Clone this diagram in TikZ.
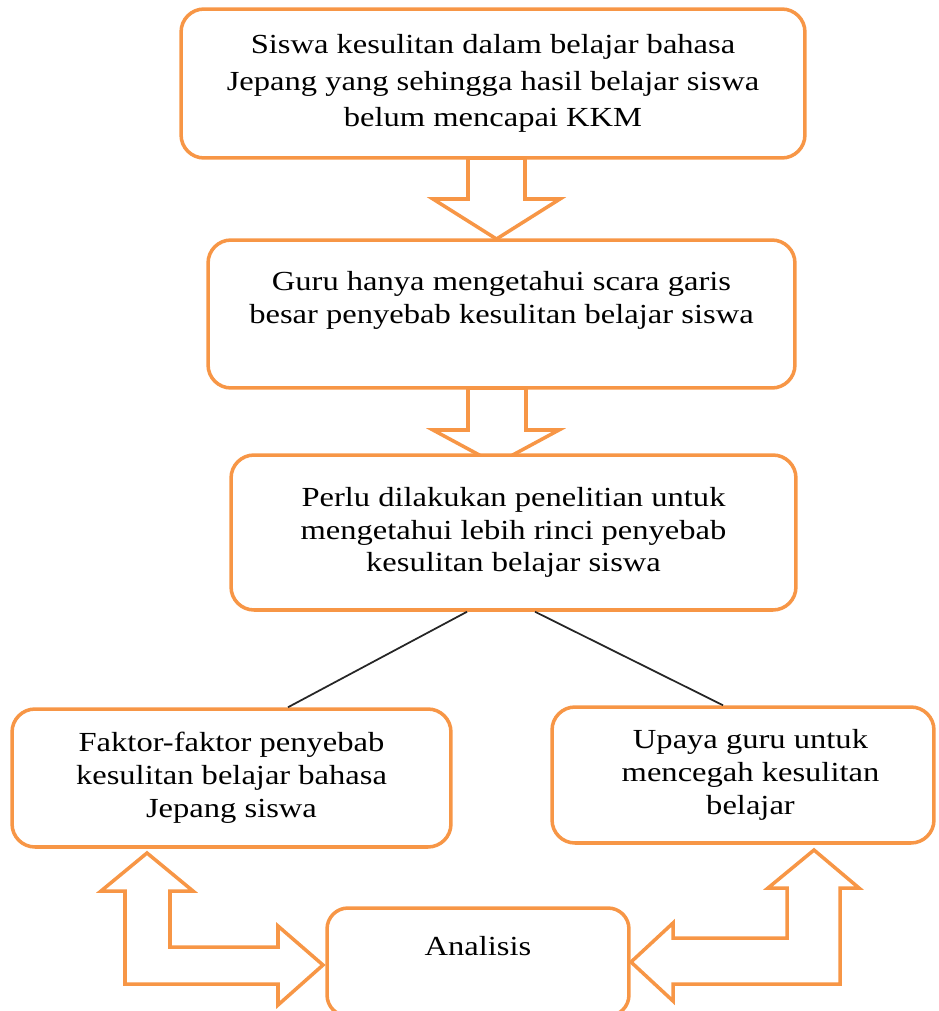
\documentclass[tikz,border=0pt]{standalone}
\usepackage{fontspec}
\setmainfont[FakeStretch=1.18]{Liberation Serif}
\definecolor{boxorange}{HTML}{F79646}

\begin{document}
\begin{tikzpicture}[x=0.02cm,y=-0.02cm,
  kotak/.style={draw=boxorange, line width=2pt, rounded corners=0.46cm, fill=white,
    align=center, inner sep=0pt, font=\fontsize{15.7}{18.7}\selectfont},
  panah/.style={draw=boxorange, line width=2pt, fill=white, line join=miter},
  garis/.style={draw=black!85, line width=1pt}]
\useasboundingbox (0,0) rectangle (938,1011);
\draw[panah] (468,158) -- (525,158) -- (525,199) -- (560,199) -- (496.5,239) -- (433,199) -- (468,199) -- cycle;
\draw[panah] (468,388) -- (526,388) -- (526,430) -- (559,430) -- (496,464) -- (433,430) -- (468,430) -- cycle;
\draw[panah] (147,853) -- (193,891) -- (170,891) -- (170,947) -- (278,947) -- (278,926) -- (323,965)
  -- (278,1005) -- (278,984) -- (125,984) -- (125,891) -- (101,891) -- cycle;
\draw[panah] (814,850) -- (859,888) -- (840,888) -- (840,984) -- (673,984) -- (673,1001) -- (631,962)
  -- (673,923) -- (673,938) -- (787,938) -- (787,888) -- (768,888) -- cycle;
\node[kotak, minimum width=12.48cm, minimum height=2.98cm, font=\fontsize{15.7}{20.7}\selectfont]
  (masalah) at (493,83.5) {Siswa kesulitan dalam belajar bahasa\\ Jepang yang sehingga hasil belajar siswa\\ belum mencapai KKM};
\node[kotak, minimum width=11.74cm, minimum height=2.96cm]
  (guru) at (501.5,314) {Guru hanya mengetahui scara garis\\ besar penyebab kesulitan belajar siswa\\ \mbox{}};
\node[kotak, minimum width=11.3cm, minimum height=3.1cm]
  (penelitian) at (513.5,532.5) {Perlu dilakukan penelitian untuk\\ mengetahui lebih rinci penyebab\\ kesulitan belajar siswa};
\node[kotak, minimum width=8.78cm, minimum height=2.76cm]
  (faktor) at (231.5,778) {Faktor-faktor penyebab\\ kesulitan belajar bahasa\\ Jepang siswa};
\node[kotak, minimum width=7.64cm, minimum height=2.72cm]
  (upaya) at (743,775) {\hspace{0.3cm}Upaya guru untuk\\ \hspace{0.3cm}mencegah kesulitan\\ \hspace{0.3cm}belajar};
\node[kotak, minimum width=6.04cm, minimum height=2.16cm, rounded corners=0.42cm]
  (analisis) at (478,962) {Analisis\\ \mbox{}};
\draw[garis] ([xshift=-0.93cm]penelitian.south) -- ([xshift=1.13cm]faktor.north);
\draw[garis] ([xshift=0.43cm]penelitian.south) -- ([xshift=-0.4cm]upaya.north);
\end{tikzpicture}
\end{document}
